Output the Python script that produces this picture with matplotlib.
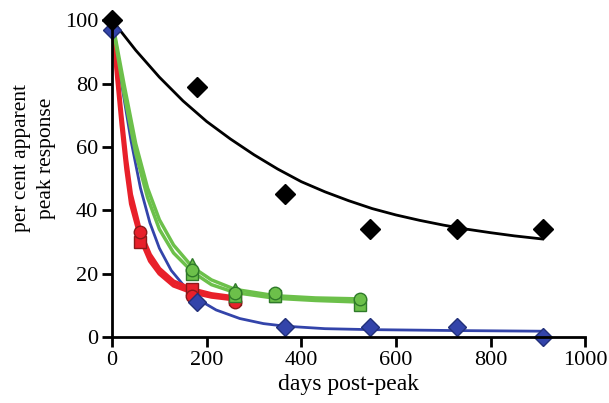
import numpy as np
import matplotlib
matplotlib.use('Agg')
import matplotlib.pyplot as plt

plt.rcParams['font.family'] = ['Liberation Serif', 'DejaVu Serif']

# 測定点
days_long = [0, 180, 365, 545, 730, 910]
black_pts = [100, 79, 45, 34, 34, 34]
blue_pts = [97, 11, 3, 3, 3, 0]

red_days = [60, 170, 260]
red_sq = [30, 15, 12]
red_ci = [33, 13, 11]

green_days = [170, 260, 345, 525]
green_tri = [23, 15, 13, 11]
green_sq = [20, 13, 13, 10]
green_ci = [21, 14, 14, 12]

# フィット曲線
black_cx = [0, 50, 100, 150, 200, 250, 300, 350, 400, 450, 500, 550, 600, 650, 700, 750, 800, 850, 910]
black_cy = [100, 90.5, 82, 74.5, 68, 62.5, 57.5, 53, 49, 45.8, 43, 40.5, 38.5, 36.8, 35.3, 34, 32.9, 31.9, 30.9]

blue_cx = [0, 20, 40, 60, 80, 100, 125, 150, 180, 220, 270, 320, 365, 450, 545, 730, 910]
blue_cy = [100, 80, 62, 47, 36, 28, 21, 16.5, 12, 8.5, 5.8, 4.2, 3.4, 2.6, 2.3, 2, 1.8]

red1_cx = [0, 10, 20, 30, 40, 60, 80, 100, 130, 170, 210, 260]
red1_cy = [100, 85, 70, 56, 45, 33, 26, 21.5, 17.5, 15, 13.5, 12.5]
red2_cy = [100, 83, 67, 53, 42, 31, 24, 20, 16.2, 14, 12.7, 11.8]

green_cx = [0, 25, 50, 75, 100, 130, 170, 210, 260, 345, 430, 525]
green1_cy = [100, 80, 61, 47, 37, 29, 22, 18, 15, 13, 12.3, 12]
green2_cy = [100, 77, 58, 44, 34, 26.5, 20.5, 16.5, 14, 12.2, 11.5, 11]

fig = plt.figure(figsize=(6.09, 4.03), dpi=100)
ax = fig.add_axes([0.184, 0.164, 0.777, 0.786])

ax.plot(black_cx, black_cy, color='black', lw=2, clip_on=False)
ax.plot(blue_cx, blue_cy, color='#3344aa', lw=2, clip_on=False)
ax.plot(red1_cx, red1_cy, color='#e8202a', lw=3, clip_on=False)
ax.plot(red1_cx, red2_cy, color='#e8202a', lw=3, clip_on=False)
ax.plot(green_cx, green1_cy, color='#6cc04a', lw=2.5, clip_on=False)
ax.plot(green_cx, green2_cy, color='#6cc04a', lw=2.5, clip_on=False)

ax.plot(red_days, red_sq, 's', ms=9, color='#e8202a', mec='#8a1a1a', clip_on=False)
ax.plot(red_days, red_ci, 'o', ms=9, color='#e8202a', mec='#8a1a1a', clip_on=False)
ax.plot(green_days, green_tri, '^', ms=9, color='#6cc04a', mec='#2f7a2a', clip_on=False)
ax.plot(green_days, green_sq, 's', ms=9, color='#6cc04a', mec='#2f7a2a', clip_on=False)
ax.plot(green_days, green_ci, 'o', ms=9, color='#6cc04a', mec='#2f7a2a', clip_on=False)
ax.plot(days_long, blue_pts, 'D', ms=9, color='#3344aa', mec='#22307a', clip_on=False)
ax.plot(days_long, black_pts, 'D', ms=10, color='black', clip_on=False)

ax.set_xlim(0, 1000)
ax.set_ylim(0, 100)
ax.set_xticks([0, 200, 400, 600, 800, 1000])
ax.set_yticks([0, 20, 40, 60, 80, 100])
ax.spines['top'].set_visible(False)
ax.spines['right'].set_visible(False)
ax.spines['left'].set_linewidth(2)
ax.spines['bottom'].set_linewidth(2)
ax.tick_params(direction='out', length=7, width=2, labelsize=16, colors='black', pad=3)
ax.set_xlabel('days post-peak', fontsize=17, labelpad=3)
ax.set_ylabel('per cent apparent\npeak response', fontsize=15.5, linespacing=1.45)
ax.yaxis.set_label_coords(-0.118, 0.565)

fig.savefig('out.png', dpi=100)
